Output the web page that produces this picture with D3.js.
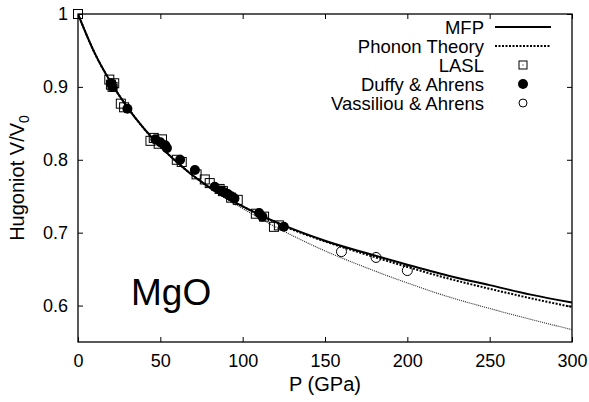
<!DOCTYPE html>
<html><head><meta charset="utf-8">
<script src="https://cdn.jsdelivr.net/npm/d3@7"></script>
<style>body{margin:0;background:#fff}svg{display:block}text{font-family:"Liberation Sans",Arial,sans-serif}</style>
</head><body><svg id="c" width="589" height="402"></svg>
<script>
const curveP = [0,10,20,30,40,50,60,70,80,90,100,125,150,175,200,225,250,275,300];
const mfpV = [1.0,0.947,0.906,0.872,0.843,0.818,0.797,0.778,0.762,0.748,0.736,0.710,0.689,0.672,0.656,0.641,0.628,0.615,0.604];
const phononV = [1.0,0.947,0.906,0.872,0.843,0.818,0.797,0.778,0.762,0.748,0.736,0.709,0.688,0.670,0.653,0.637,0.623,0.610,0.598];
const lowerV = [1.0,0.947,0.906,0.872,0.843,0.818,0.797,0.778,0.761,0.746,0.733,0.702,0.675,0.652,0.631,0.612,0.596,0.581,0.567];
const laslP = [0,19,20,21,22,26,28,44,46,49,51,60,63,72,77,80,86,88,93,97,108,113,119,122];
const laslV = [1.0,0.91,0.903,0.9,0.905,0.877,0.872,0.826,0.83,0.822,0.828,0.8,0.797,0.78,0.773,0.768,0.76,0.757,0.748,0.745,0.726,0.722,0.708,0.71];
const duffyP = [20,21,30,47,50,53,54,62,71,83,87,89,91,93,95,110,112,125];
const duffyV = [0.905,0.9,0.87,0.828,0.824,0.82,0.816,0.8,0.786,0.763,0.758,0.755,0.753,0.75,0.747,0.727,0.722,0.708];
const vassP = [160,181,200];
const vassV = [0.674,0.666,0.648];
const xTicks = [0,50,100,150,200,250,300];
const yTicks = [0.6,0.7,0.8,0.9,1];
const legendLabels = ["MFP","Phonon Theory","LASL","Duffy & Ahrens","Vassiliou & Ahrens"];

const svg = d3.select("#c");
const L=78,R=572,T=14,B=342;
const x = d3.scaleLinear().domain([0,300]).range([L,R]);
const y = d3.scaleLinear().domain([0.55,1]).range([B,T]);
const tl=5;

const g = svg.append("g");
g.append("g").attr("transform",`translate(0,${B})`).call(d3.axisBottom(x).tickValues(xTicks).tickSize(-tl).tickPadding(12).tickFormat(d3.format("d")));
g.append("g").attr("transform",`translate(0,${T})`).call(d3.axisTop(x).tickValues(xTicks).tickSize(-tl).tickFormat(""));
g.append("g").attr("transform",`translate(${L},0)`).call(d3.axisLeft(y).tickValues(yTicks).tickSize(-tl).tickPadding(10).tickFormat(d=>d===1?"1":d3.format(".1f")(d)));
g.append("g").attr("transform",`translate(${R},0)`).call(d3.axisRight(y).tickValues(yTicks).tickSize(-tl).tickFormat(""));
g.selectAll(".domain").remove();
g.selectAll(".tick line").attr("stroke","#000").attr("stroke-width",1);
g.selectAll(".tick text").attr("font-size",18).attr("fill","#000").style("font-family","'Liberation Sans',Arial,sans-serif");
svg.append("rect").attr("x",L).attr("y",T).attr("width",R-L).attr("height",B-T).attr("fill","none").attr("stroke","#000").attr("stroke-width",1.3);

svg.append("clipPath").attr("id","cl").append("rect").attr("x",L).attr("y",T).attr("width",R-L).attr("height",B-T);
const line = d3.line().x(d=>x(d[0])).y(d=>y(d[1])).curve(d3.curveMonotoneX);
const plot = svg.append("g").attr("clip-path","url(#cl)");
plot.append("path").datum(curveP.map((p,i)=>[p,lowerV[i]])).attr("d",line).attr("fill","none").attr("stroke","#222").attr("stroke-width",1.1).attr("stroke-dasharray","1,1");
plot.append("path").datum(curveP.map((p,i)=>[p,phononV[i]])).attr("d",line).attr("fill","none").attr("stroke","#000").attr("stroke-width",2).attr("stroke-dasharray","2,1.5");
plot.append("path").datum(curveP.map((p,i)=>[p,mfpV[i]])).attr("d",line).attr("fill","none").attr("stroke","#000").attr("stroke-width",2);

const pts = svg.append("g");
const sq=9;
pts.selectAll(".sq").data(laslP.map((p,i)=>[p,laslV[i]])).join("rect")
  .attr("x",d=>x(d[0])-sq/2).attr("y",d=>y(d[1])-sq/2).attr("width",sq).attr("height",sq)
  .attr("fill","none").attr("stroke","#000").attr("stroke-width",1);
pts.selectAll(".fc").data(duffyP.map((p,i)=>[p,duffyV[i]])).join("circle")
  .attr("cx",d=>x(d[0])).attr("cy",d=>y(d[1])).attr("r",5).attr("fill","#000");
pts.selectAll(".oc").data(vassP.map((p,i)=>[p,vassV[i]])).join("circle")
  .attr("cx",d=>x(d[0])).attr("cy",d=>y(d[1])).attr("r",5).attr("fill","none").attr("stroke","#000").attr("stroke-width",1);

const lg = svg.append("g");
const ly0=27, ldy=19, tx=484, sx1=495, sx2=551, mx=523;
legendLabels.forEach((t,i)=>{
  lg.append("text").attr("x",tx).attr("y",ly0+i*ldy).attr("dy","0.36em").attr("text-anchor","end").attr("font-size",18.5).text(t);
});
lg.append("line").attr("x1",sx1).attr("x2",sx2).attr("y1",ly0).attr("y2",ly0).attr("stroke","#000").attr("stroke-width",2);
lg.append("line").attr("x1",sx1).attr("x2",sx2).attr("y1",ly0+ldy).attr("y2",ly0+ldy).attr("stroke","#000").attr("stroke-width",2).attr("stroke-dasharray","2,1.5");
lg.append("rect").attr("x",mx-4).attr("y",ly0+2*ldy-4).attr("width",8).attr("height",8).attr("fill","none").attr("stroke","#000");
lg.append("rect").attr("x",mx-0.5).attr("y",ly0+2*ldy-0.5).attr("width",1).attr("height",1).attr("fill","#000");
lg.append("circle").attr("cx",mx).attr("cy",ly0+3*ldy).attr("r",5).attr("fill","#000");
lg.append("circle").attr("cx",mx).attr("cy",ly0+4*ldy).attr("r",4).attr("fill","none").attr("stroke","#000");

svg.append("text").attr("x",(L+R)/2).attr("y",391).attr("text-anchor","middle").attr("font-size",20).text("P (GPa)");
const yt = svg.append("text").attr("transform",`translate(24,${(T+B)/2}) rotate(-90)`).attr("text-anchor","middle").attr("font-size",20);
yt.append("tspan").text("Hugoniot V/V");
yt.append("tspan").attr("font-size",14).attr("dy",5).text("0");

svg.append("text").attr("x",131).attr("y",305).attr("font-size",37).text("MgO");
</script></body></html>
